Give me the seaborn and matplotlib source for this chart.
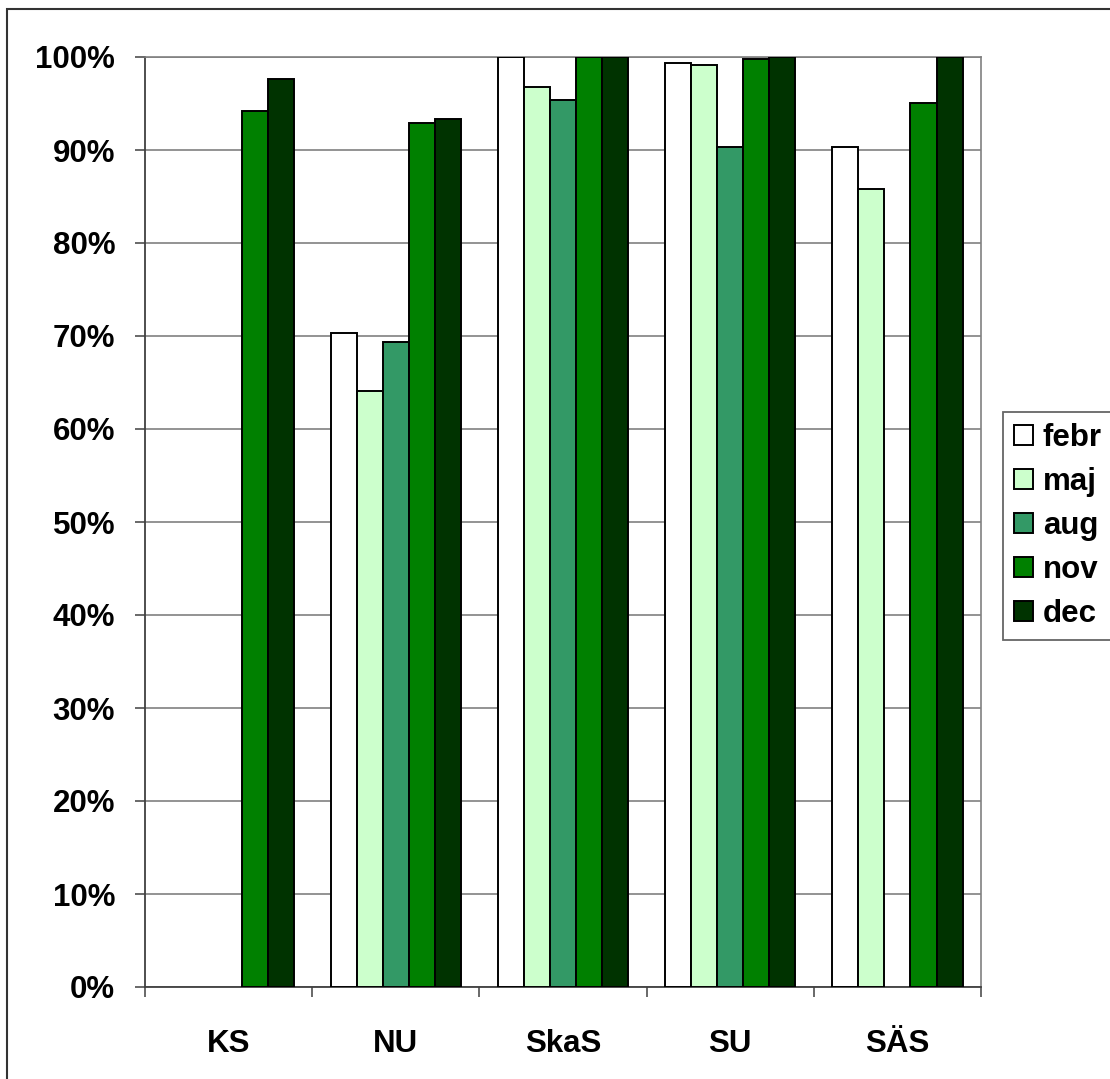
import matplotlib
matplotlib.use("Agg")
import matplotlib.pyplot as plt
from matplotlib.patches import Patch, Rectangle
from matplotlib.ticker import FixedLocator, PercentFormatter
import numpy as np
import pandas as pd
import seaborn as sns

# Share of cases per hospital and month (fractions, NaN = no value reported)
sites = ["KS", "NU", "SkaS", "SU", "SÄS"]
months = ["febr", "maj", "aug", "nov", "dec"]
febr = [np.nan, 0.703, 1.000, 0.994, 0.903]
maj = [np.nan, 0.641, 0.968, 0.991, 0.858]
aug = [np.nan, 0.694, 0.954, 0.903, np.nan]
nov = [0.942, 0.929, 1.000, 0.998, 0.951]
dec = [0.976, 0.933, 1.000, 1.000, 1.000]
colors = ["#FFFFFF", "#CCFFCC", "#339966", "#008000", "#003300"]

series = dict(zip(months, [febr, maj, aug, nov, dec]))
df = pd.DataFrame(
    [(s, m, series[m][i]) for m in months for i, s in enumerate(sites)],
    columns=["site", "month", "value"],
)

sns.set_style("white")
plt.rcParams["font.family"] = ["Liberation Sans", "DejaVu Sans"]
plt.rcParams["font.weight"] = "bold"
plt.rcParams["text.color"] = "black"
plt.rcParams["xtick.color"] = "black"
plt.rcParams["ytick.color"] = "black"

W, H = 1110, 1079
fig = plt.figure(figsize=(W / 100, H / 100), dpi=100)
ax = fig.add_axes([145 / W, 1 - 987 / H, (981 - 145) / W, (987 - 57) / H])

sns.barplot(
    data=df, x="site", y="value", hue="month", hue_order=months,
    order=sites, palette=colors, saturation=1, width=0.78,
    edgecolor="black", linewidth=1.4, errorbar=None, legend=False,
    ax=ax, zorder=3,
)

ax.set_xlim(-0.5, len(sites) - 0.5)
ax.set_ylim(0, 1)
ax.set_xlabel("")
ax.set_ylabel("")

ax.yaxis.set_major_locator(FixedLocator(np.arange(0, 1.01, 0.1)))
ax.yaxis.set_major_formatter(PercentFormatter(1.0, decimals=0))
ax.grid(axis="y", color="#808080", linewidth=1.2, zorder=0)
ax.grid(axis="x", visible=False)
ax.set_axisbelow(True)

# category labels centred, ticks on group boundaries
ax.set_xticks(range(len(sites)))
ax.set_xticklabels(sites)
ax.set_xticks(np.arange(-0.5, len(sites), 1.0), minor=True)
ax.tick_params(axis="x", which="major", length=0, pad=30,
               labelsize=22.5, labelcolor="black")
ax.tick_params(axis="x", which="minor", length=7.5, width=1.1,
               color="#404040", direction="out", bottom=True)
ax.tick_params(axis="y", which="major", length=7.5, width=1.1,
               color="#404040", direction="out", left=True, pad=14,
               labelsize=22.5, labelcolor="black")
for lab in ax.get_xticklabels() + ax.get_yticklabels():
    lab.set_fontweight("bold")

for side in ("left", "bottom"):
    ax.spines[side].set_color("#404040")
    ax.spines[side].set_linewidth(1.3)
for side in ("top", "right"):
    ax.spines[side].set_color("#808080")
    ax.spines[side].set_linewidth(1.2)

handles = [Patch(facecolor=c, edgecolor="black", linewidth=1.4) for c in colors]
leg = fig.legend(
    handles, months, loc="lower left",
    bbox_to_anchor=(1003 / W, 1 - 640 / H), bbox_transform=fig.transFigure,
    borderaxespad=0, frameon=True, fancybox=False, shadow=False,
    prop={"size": 22.5, "weight": "bold"}, handlelength=0.6,
    handleheight=0.58, handletextpad=0.32, labelspacing=0.45,
    borderpad=0.35, labelcolor="black",
)
leg.get_frame().set_edgecolor("#404040")
leg.get_frame().set_linewidth(1.3)

# outer chart border (runs past the right and bottom edges)
fig.patches.append(Rectangle((7 / W, -0.1), 1.2, 1 - 9 / H + 0.1,
                             transform=fig.transFigure, fill=False,
                             edgecolor="#333333", linewidth=1.5))

fig.savefig("out.png", dpi=100)
